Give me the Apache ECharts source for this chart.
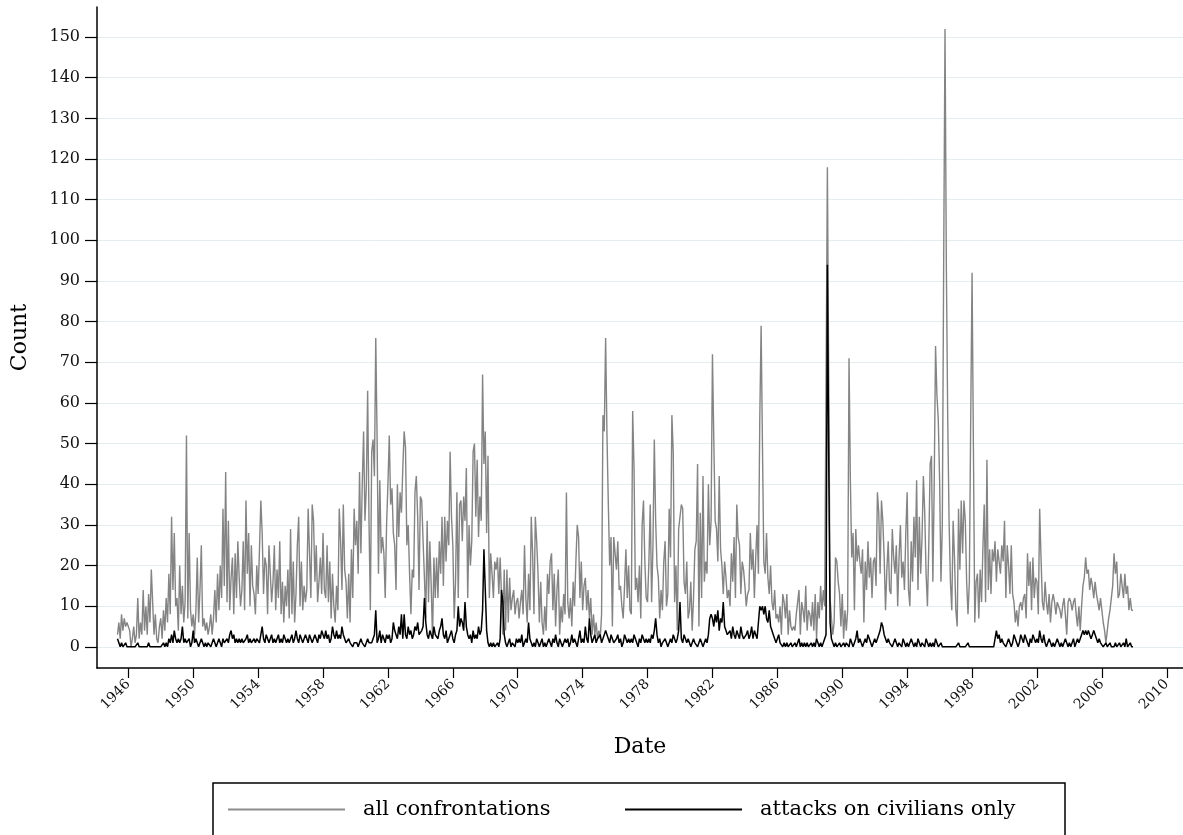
<!DOCTYPE html>
<html>
<head>
<meta charset="utf-8">
<script src="https://cdn.jsdelivr.net/npm/echarts@6/dist/echarts.min.js"></script>
<style>
  html, body { margin: 0; padding: 0; background: #fff; }
  #chart { width: 1183px; height: 835px; }
</style>
</head>
<body>
<div id="chart"></div>
<script>
// monthly counts, first value = May 1945
var startYear = 1945;
var startMonth = 4;

var allConf1940s = [
  3, 6, 2, 8, 4, 7, 5, 6,
  6, 4, 0, 2, 5, 1, 3, 12, 2, 6, 3, 14,
  4, 10, 3, 13, 6, 19, 11, 3, 8, 2, 1, 5,
  7, 2, 9, 4, 12, 6, 18, 8, 32, 14, 28, 10,
  12, 4, 20, 8, 15, 6, 11, 52, 7, 28, 9, 5
];
var allConf1950s = [
  8, 3, 9, 22, 6, 14, 25, 5, 7, 4, 6, 3,
  5, 8, 3, 7, 14, 6, 18, 9, 20, 12, 34, 15,
  43, 11, 31, 9, 17, 22, 8, 23, 12, 26, 17, 10,
  14, 26, 9, 36, 18, 28, 10, 25, 15, 13, 8, 20,
  13, 24, 36, 28, 13, 22, 20, 8, 25, 25, 11, 16,
  25, 9, 19, 12, 26, 8, 16, 6, 15, 10, 19, 7,
  29, 8, 21, 6, 13, 25, 32, 10, 21, 9, 15, 11,
  14, 34, 23, 12, 35, 31, 16, 25, 11, 16, 22, 13,
  28, 14, 12, 25, 11, 21, 7, 18, 10, 6, 15, 9,
  34, 26, 14, 35, 19, 16, 7, 18, 6, 24, 12, 34
];
var allConf1960s = [
  25, 31, 18, 43, 23, 40, 53, 31, 39, 63, 31, 9,
  48, 51, 42, 76, 51, 18, 41, 23, 27, 23, 12, 30,
  40, 52, 35, 39, 28, 25, 14, 40, 27, 38, 33, 44,
  53, 49, 25, 30, 18, 8, 19, 17, 38, 42, 32, 14,
  37, 36, 26, 17, 7, 31, 11, 26, 15, 2, 22, 12,
  22, 12, 26, 18, 32, 15, 32, 21, 31, 25, 48, 32,
  25, 7, 16, 38, 12, 35, 36, 26, 37, 31, 44, 12,
  30, 20, 26, 48, 50, 32, 46, 27, 37, 31, 67, 45,
  53, 28, 47, 12, 23, 18, 12, 21, 19, 22, 13, 22,
  22, 3, 19, 4, 19, 6, 17, 9, 12, 14, 8, 11
];
var allConf1970s = [
  12, 7, 11, 14, 8, 25, 12, 6, 18, 9, 32, 23,
  8, 32, 26, 18, 6, 16, 6, 3, 10, 4, 18, 13,
  21, 23, 9, 18, 5, 14, 19, 3, 10, 6, 13, 8,
  38, 11, 7, 12, 5, 16, 10, 21, 30, 27, 12, 21,
  9, 15, 17, 9, 14, 7, 12, 3, 8, 3, 6, 2,
  4, 2, 8, 57, 53, 76, 52, 35, 20, 27, 5, 27,
  27, 19, 26, 14, 15, 10, 7, 15, 24, 12, 20, 9,
  8, 58, 44, 14, 17, 11, 20, 7, 30, 36, 21, 12,
  11, 21, 35, 11, 25, 51, 31, 20, 17, 7, 14, 9,
  21, 26, 10, 13, 34, 22, 57, 48, 11, 20, 4, 29
];
var allConf1980s = [
  29, 35, 34, 16, 13, 21, 7, 9, 16, 4, 12, 24,
  26, 45, 5, 33, 12, 42, 16, 21, 18, 40, 25, 31,
  72, 51, 31, 29, 21, 42, 24, 20, 13, 21, 17, 12,
  14, 10, 23, 16, 27, 12, 35, 27, 25, 13, 21, 19,
  15, 10, 13, 14, 28, 19, 24, 12, 22, 30, 18, 56,
  79, 49, 21, 18, 28, 17, 13, 20, 11, 9, 14, 7,
  8, 6, 10, 3, 13, 11, 7, 13, 3, 9, 5, 4,
  5, 4, 8, 11, 14, 3, 11, 9, 6, 15, 4, 9,
  8, 5, 11, 4, 13, 2, 11, 7, 15, 9, 14, 10,
  10, 118, 66, 12, 7, 3, 6, 22, 21, 16, 13, 5
];
var allConf1990s = [
  13, 2, 9, 4, 9, 71, 41, 22, 28, 9, 29, 21,
  25, 21, 18, 24, 6, 21, 14, 26, 17, 22, 12, 21,
  22, 15, 38, 33, 18, 36, 31, 22, 9, 19, 26, 14,
  13, 29, 22, 18, 25, 10, 22, 30, 17, 21, 14, 28,
  38, 14, 10, 26, 16, 32, 22, 41, 14, 32, 18, 27,
  42, 33, 18, 10, 25, 45, 47, 16, 40, 74, 62, 56,
  41, 16, 30, 94, 152, 93, 56, 31, 16, 9, 31, 22,
  9, 5, 34, 19, 36, 23, 36, 31, 16, 8, 16, 56,
  92, 49, 6, 16, 18, 7, 19, 11, 24, 35, 11, 46,
  14, 24, 13, 24, 21, 26, 16, 24, 21, 18, 25, 21
];
var allConf2000s = [
  31, 12, 25, 20, 13, 25, 13, 11, 6, 9, 5, 10,
  11, 9, 12, 13, 7, 23, 15, 21, 9, 22, 12, 17,
  16, 8, 34, 22, 11, 9, 16, 11, 8, 13, 6, 11,
  13, 11, 8, 11, 10, 9, 7, 10, 12, 8, 3, 11,
  12, 11, 9, 11, 12, 8, 5, 10, 4, 10, 15, 17,
  22, 18, 19, 14, 17, 15, 12, 16, 13, 11, 9, 12,
  9, 6, 4, 1, 4, 7, 9, 12, 15, 23, 18, 21,
  12, 13, 18, 15, 12, 18, 13, 15, 9, 12, 9, 9
];

var civ1940s = [
  2, 1, 0, 1, 0, 0, 1, 0,
  0, 0, 0, 0, 0, 0, 0, 1, 0, 0, 0, 0,
  0, 0, 0, 1, 0, 0, 0, 0, 0, 0, 0, 0,
  0, 0, 1, 0, 1, 0, 2, 1, 3, 1, 4, 2,
  1, 2, 1, 2, 5, 1, 2, 1, 1, 2, 0, 1
];
var civ1950s = [
  4, 1, 2, 1, 0, 1, 2, 1, 0, 1, 0, 1,
  1, 0, 1, 2, 1, 0, 1, 2, 1, 0, 2, 1,
  1, 2, 1, 3, 4, 2, 3, 1, 2, 1, 2, 1,
  2, 1, 1, 2, 3, 1, 2, 1, 1, 2, 1, 2,
  2, 1, 3, 5, 2, 1, 3, 2, 1, 2, 3, 1,
  2, 1, 2, 3, 1, 2, 1, 3, 2, 1, 2, 1,
  2, 3, 1, 2, 4, 2, 1, 3, 2, 1, 2, 3,
  2, 1, 3, 2, 1, 2, 3, 2, 1, 3, 2, 4,
  3, 2, 4, 2, 3, 1, 2, 5, 3, 2, 4, 2,
  3, 2, 5, 3, 2, 1, 1, 2, 1, 1, 0, 1
];
var civ1960s = [
  1, 1, 0, 1, 2, 1, 1, 0, 1, 2, 1, 1,
  1, 2, 3, 9, 1, 2, 4, 1, 3, 2, 1, 3,
  2, 3, 1, 2, 6, 4, 3, 2, 5, 3, 8, 2,
  8, 3, 2, 5, 3, 4, 2, 3, 5, 4, 6, 3,
  3, 4, 5, 12, 6, 3, 2, 4, 3, 2, 5, 3,
  3, 2, 4, 5, 7, 3, 2, 4, 1, 2, 3, 4,
  2, 1, 3, 4, 10, 5, 7, 6, 4, 11, 5, 3,
  2, 3, 1, 4, 2, 3, 2, 5, 3, 4, 9, 24,
  14, 4, 1, 0, 1, 0, 1, 0, 0, 1, 0, 2,
  14, 11, 3, 1, 0, 1, 2, 0, 1, 1, 0, 2
];
var civ1970s = [
  1, 2, 1, 3, 0, 1, 2, 1, 6, 2, 1, 0,
  1, 0, 2, 1, 0, 1, 2, 0, 1, 0, 1, 2,
  1, 0, 2, 1, 3, 1, 0, 2, 1, 0, 1, 2,
  1, 2, 0, 1, 3, 1, 2, 1, 0, 2, 4, 1,
  2, 1, 5, 2, 1, 7, 3, 1, 2, 3, 1, 2,
  2, 3, 1, 2, 3, 4, 3, 2, 1, 3, 2, 1,
  1, 2, 3, 1, 2, 0, 1, 3, 2, 1, 2, 1,
  2, 1, 3, 2, 1, 0, 2, 1, 3, 2, 1, 2,
  1, 2, 1, 3, 2, 4, 7, 3, 1, 2, 0, 1,
  1, 2, 1, 0, 1, 2, 1, 3, 2, 1, 2, 4
];
var civ1980s = [
  11, 2, 1, 3, 2, 1, 2, 1, 0, 1, 2, 1,
  1, 0, 1, 2, 1, 0, 1, 2, 1, 3, 7, 8,
  7, 5, 8, 6, 9, 4, 7, 6, 11, 5, 4, 3,
  3, 4, 2, 5, 3, 2, 4, 3, 2, 5, 3, 2,
  2, 3, 4, 2, 3, 5, 2, 4, 3, 2, 6, 10,
  9, 10, 8, 10, 7, 6, 9, 5, 4, 3, 2, 1,
  2, 3, 1, 1, 0, 1, 0, 1, 0, 0, 1, 0,
  0, 1, 0, 1, 2, 0, 1, 0, 1, 0, 1, 0,
  0, 1, 0, 1, 0, 2, 1, 0, 1, 0, 1, 2,
  3, 94, 46, 6, 2, 1, 0, 1, 0, 0, 1, 0
];
var civ1990s = [
  0, 1, 0, 1, 1, 0, 2, 1, 0, 1, 2, 4,
  1, 2, 1, 0, 1, 2, 1, 3, 2, 1, 0, 1,
  2, 1, 2, 3, 4, 6, 5, 3, 2, 1, 2, 1,
  1, 0, 1, 2, 1, 0, 1, 1, 0, 2, 1, 0,
  1, 0, 1, 2, 1, 0, 1, 0, 2, 1, 0, 1,
  1, 0, 2, 1, 0, 1, 0, 1, 0, 2, 1, 0,
  0, 1, 0, 0, 0, 0, 0, 0, 0, 0, 0, 0,
  0, 0, 1, 0, 0, 0, 0, 0, 0, 1, 0, 0,
  0, 0, 0, 0, 0, 0, 0, 0, 0, 0, 0, 0,
  0, 0, 0, 0, 0, 0, 4, 2, 3, 1, 2, 1
];
var civ2000s = [
  1, 0, 1, 2, 1, 0, 1, 3, 2, 1, 0, 1,
  3, 2, 1, 3, 2, 1, 0, 2, 1, 3, 2, 1,
  2, 1, 4, 2, 1, 3, 1, 0, 1, 2, 1, 0,
  1, 0, 1, 2, 1, 0, 1, 0, 1, 2, 1, 0,
  1, 0, 1, 2, 0, 1, 2, 1, 2, 3, 4, 3,
  4, 3, 4, 3, 2, 3, 4, 3, 2, 1, 2, 1,
  1, 0, 0, 1, 0, 0, 1, 0, 0, 0, 1, 0,
  0, 1, 0, 0, 1, 0, 2, 0, 0, 1, 0, 0
];

var yearTicks = [1946, 1950, 1954, 1958, 1962, 1966, 1970, 1974, 1978,
                 1982, 1986, 1990, 1994, 1998, 2002, 2006, 2010];
var countTicks = [0, 10, 20, 30, 40, 50, 60, 70, 80, 90, 100, 110, 120, 130, 140, 150];

var allConf = [].concat(allConf1940s, allConf1950s, allConf1960s, allConf1970s,
                        allConf1980s, allConf1990s, allConf2000s);
var civ = [].concat(civ1940s, civ1950s, civ1960s, civ1970s, civ1980s, civ1990s, civ2000s);

function toPoints(arr) {
  return arr.map(function (v, i) {
    return [startYear + (startMonth + i) / 12, v];
  });
}

var serif = "'DejaVu Serif', serif";
var chart = echarts.init(document.getElementById('chart'));

var legendText = { fontFamily: serif, fontSize: 21, color: '#000', padding: [0, 0, 0, 13] };

var option = {
  backgroundColor: '#fff',
  animation: false,
  grid: { left: 97, right: 0, top: 7, bottom: 167, outerBoundsMode: 'none' },
  xAxis: {
    type: 'value',
    min: 1944.07,
    max: 2011.0,
    name: 'Date',
    nameLocation: 'middle',
    nameGap: 68,
    nameTextStyle: { fontFamily: serif, fontSize: 22, color: '#000' },
    axisLine: { show: true, onZero: false, lineStyle: { color: '#000', width: 1.5 } },
    axisTick: { show: true, length: 10, customValues: yearTicks, lineStyle: { color: '#000', width: 1.2 } },
    axisLabel: {
      customValues: yearTicks, rotate: 45, margin: 14,
      fontFamily: serif, fontSize: 14, color: '#111',
      formatter: function (v) { return String(v); }
    },
    splitLine: { show: false }
  },
  yAxis: {
    type: 'value',
    min: -5.2,
    max: 157.4,
    name: 'Count',
    nameLocation: 'middle',
    nameGap: 66,
    nameTextStyle: { fontFamily: serif, fontSize: 22, color: '#000' },
    axisLine: { show: true, onZero: false, lineStyle: { color: '#000', width: 1.5 } },
    axisTick: { show: true, length: 12, customValues: countTicks, lineStyle: { color: '#000', width: 1.2 } },
    axisLabel: {
      customValues: countTicks, margin: 17,
      fontFamily: serif, fontSize: 16, color: '#111',
      formatter: function (v) { return String(v); }
    },
    splitLine: { show: true, lineStyle: { color: '#e4edf0', width: 1 } }
  },
  legend: [
    {
      data: [{ name: 'all confrontations', icon: 'rect' }], left: 228, top: 799,
      itemWidth: 117, itemHeight: 2, padding: 0, textStyle: legendText
    },
    {
      data: [{ name: 'attacks on civilians only', icon: 'rect' }], left: 625, top: 799,
      itemWidth: 117, itemHeight: 2, padding: 0, textStyle: legendText
    }
  ],
  graphic: [
    {
      type: 'rect',
      shape: { x: 213, y: 783, width: 852, height: 80 },
      style: { fill: 'none', stroke: '#000', lineWidth: 1.5 },
      silent: true
    }
  ],
  series: [
    {
      name: 'all confrontations',
      type: 'line',
      data: toPoints(allConf),
      showSymbol: false,
      symbol: 'none',
      lineStyle: { color: '#848484', width: 1.4 },
      itemStyle: { color: '#8c8c8c' },
      z: 2
    },
    {
      name: 'attacks on civilians only',
      type: 'line',
      data: toPoints(civ),
      showSymbol: false,
      symbol: 'none',
      lineStyle: { color: '#000', width: 1.5 },
      itemStyle: { color: '#000' },
      z: 3
    }
  ]
};

chart.setOption(option);
</script>
</body>
</html>
